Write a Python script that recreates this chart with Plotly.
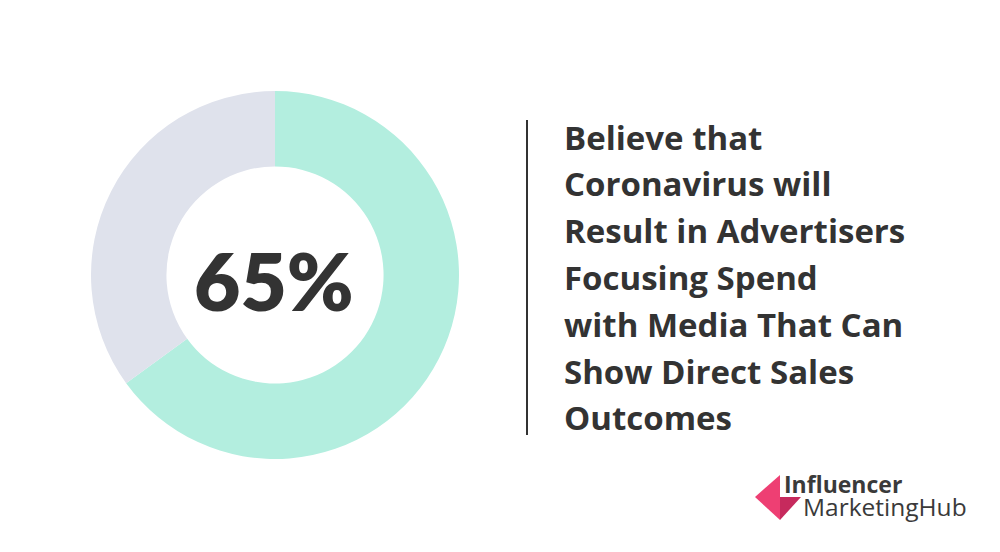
import plotly.graph_objects as go

W, H = 1000, 552

labels = ["Agree", "Other"]
values = [65, 35]
colors = ["#b3eedf", "#dfe2ec"]
center_label = "65%"
text_lines = [
    "Believe that",
    "Coronavirus will",
    "Result in Advertisers",
    "Focusing Spend",
    "with Media That Can",
    "Show Direct Sales",
    "Outcomes",
]
logo_top = "Influencer"
logo_bottom = "MarketingHub"

def px(x):
    return x / W

def py(y):
    return 1 - y / H

fig = go.Figure()
fig.add_trace(go.Pie(
    labels=labels, values=values, hole=0.59, sort=False,
    direction="clockwise", rotation=0,
    marker=dict(colors=colors, line=dict(width=0)),
    textinfo="none", hoverinfo="label+percent",
    domain=dict(x=[px(91), px(459)], y=[py(459), py(91)]),
    showlegend=False,
))

annotations = [dict(
    text=center_label, x=px(274), y=py(280), xref="paper", yref="paper",
    showarrow=False, xanchor="center", yanchor="middle",
    font=dict(family="Lato", size=80, color="#333333", weight=800),
)]

line_y0, line_step = 137, 46.8
for i, line in enumerate(text_lines):
    annotations.append(dict(
        text=line, x=px(562), y=py(line_y0 + i * line_step), xref="paper", yref="paper",
        showarrow=False, xanchor="left", yanchor="middle",
        font=dict(family="Open Sans", size=33, color="#333333", weight=700),
    ))

annotations.append(dict(
    text=logo_top, x=px(782), y=py(484), xref="paper", yref="paper",
    showarrow=False, xanchor="left", yanchor="middle",
    font=dict(family="Open Sans", size=23, color="#3a3a3a", weight=700),
))
annotations.append(dict(
    text=logo_bottom, x=px(801), y=py(506), xref="paper", yref="paper",
    showarrow=False, xanchor="left", yanchor="middle",
    font=dict(family="Open Sans", size=24.5, color="#3a3a3a", weight=400),
))

shapes = [
    dict(type="line", xref="paper", yref="paper", x0=px(527), x1=px(527),
         y0=py(120), y1=py(435), line=dict(color="#333333", width=2)),
    dict(type="path", xref="paper", yref="paper",
         path=f"M {px(780)} {py(475)} L {px(755)} {py(497)} L {px(780)} {py(520)} Z",
         fillcolor="#ee3f73", line=dict(width=0)),
    dict(type="path", xref="paper", yref="paper",
         path=f"M {px(780)} {py(497)} L {px(801)} {py(497)} L {px(780)} {py(520)} Z",
         fillcolor="#c62a5d", line=dict(width=0)),
]

fig.update_layout(
    width=W, height=H, margin=dict(l=0, r=0, t=0, b=0),
    paper_bgcolor="white", plot_bgcolor="white",
    annotations=annotations, shapes=shapes,
)
fig.write_html(
    "out.html",
    config={"displayModeBar": False},
    post_script="document.body.style.margin='0';document.body.style.padding='0';",
)
